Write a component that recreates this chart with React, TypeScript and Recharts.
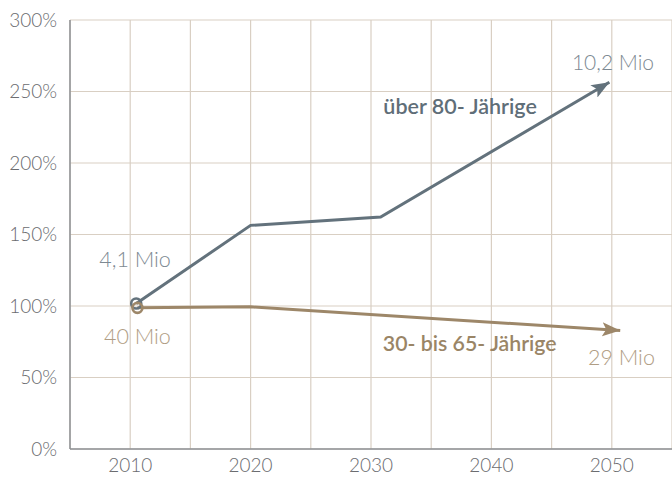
import React from 'react';
import { LineChart, Line, XAxis, YAxis, CartesianGrid, ReferenceDot } from 'recharts';

const years80 = [2010.5, 2020, 2030.8, 2049.8];
const values80 = [101.7, 156.4, 162.2, 256.5];
const years3065 = [2010.6, 2020, 2050.7];
const values3065 = [98.7, 99.4, 82.9];

const xTicks = [2005, 2010, 2015, 2020, 2025, 2030, 2035, 2040, 2045, 2050, 2055];
const xLabelled = [2010, 2020, 2030, 2040, 2050];
const yTicks = [0, 50, 100, 150, 200, 250, 300];

const annotations = [
  { x: 2010.4, y: 127.3, text: '4,1 Mio', color: '#7d8992', weight: 300, size: 21.5 },
  { x: 2010.6, y: 73.4, text: '40 Mio', color: '#b09d84', weight: 300, size: 21.5 },
  { x: 2050.1, y: 265, text: '10,2 Mio', color: '#7d8992', weight: 300, size: 21 },
  { x: 2050.8, y: 58.7, text: '29 Mio', color: '#b09d84', weight: 300, size: 21.5 },
  { x: 2037.4, y: 234.6, text: 'über 80- Jährige', color: '#5f6e78', weight: 600, size: 21.5 },
  { x: 2038.2, y: 68.5, text: '30- bis 65- Jährige', color: '#9a8566', weight: 600, size: 21.3 },
];

const GRAY = '#63727c';
const BEIGE = '#9d8769';
const GRID = '#d9cfc3';
const AXIS = '#8e9095';
const FONT = 'Lato, "Open Sans", sans-serif';

const data80 = years80.map((x, i) => ({ x, v: values80[i] }));
const data3065 = years3065.map((x, i) => ({ x, v: values3065[i] }));

const makeDot = (color: string) => (p: any) => {
  if (p.index === 0) {
    return <circle key={`d-${p.index}`} cx={p.cx} cy={p.cy} r={5} fill="#ffffff" fillOpacity={0} stroke={color} strokeWidth={2.6} />;
  }
  return <g key={`d-${p.index}`} />;
};

export default function App() {
  return (
    <div style={{ position: 'absolute', left: 0, top: 0, width: 672, height: 482, background: '#fff' }}>
      <svg width={0} height={0} style={{ position: 'absolute' }}>
        <defs>
          <marker id="arrGray" markerUnits="userSpaceOnUse" markerWidth={20} markerHeight={16} refX={18} refY={7} orient="auto">
            <path d="M0,0 L18,7 L0,14 L4,7 Z" fill={GRAY} />
          </marker>
          <marker id="arrBeige" markerUnits="userSpaceOnUse" markerWidth={20} markerHeight={16} refX={18} refY={7} orient="auto">
            <path d="M0,0 L18,7 L0,14 L4,7 Z" fill={BEIGE} />
          </marker>
        </defs>
      </svg>
      <LineChart width={672} height={482} margin={{ top: 20, right: 0, bottom: 0, left: 0 }}>
        <CartesianGrid stroke={GRID} strokeWidth={1.2} />
        <XAxis
          type="number"
          dataKey="x"
          domain={[2005, 2055]}
          ticks={xTicks}
          allowDataOverflow
          interval={0}
          height={33}
          tickLine={false}
          tickSize={0}
          tickMargin={10}
          stroke={AXIS}
          strokeWidth={1.5}
          tick={{ fill: '#6b6c70', fontSize: 19, fontFamily: FONT, fontWeight: 300 }}
          tickFormatter={(v: number) => (xLabelled.includes(v) ? String(v) : '')}
        />
        <YAxis
          type="number"
          domain={[0, 300]}
          ticks={yTicks}
          width={70}
          tickLine={false}
          tickSize={0}
          tickMargin={13}
          stroke={AXIS}
          strokeWidth={1.5}
          tick={{ fill: '#6b6c70', fontSize: 19, fontFamily: FONT, fontWeight: 300 }}
          tickFormatter={(v: number) => `${v}%`}
        />
        <Line
          data={data80}
          dataKey="v"
          type="linear"
          stroke={GRAY}
          strokeWidth={3}
          dot={makeDot(GRAY)}
          activeDot={false}
          isAnimationActive={false}
          markerEnd="url(#arrGray)"
        />
        <Line
          data={data3065}
          dataKey="v"
          type="linear"
          stroke={BEIGE}
          strokeWidth={3}
          dot={makeDot(BEIGE)}
          activeDot={false}
          isAnimationActive={false}
          markerEnd="url(#arrBeige)"
        />
        {annotations.map((a, i) => (
          <ReferenceDot
            key={i}
            x={a.x}
            y={a.y}
            r={0}
            fill="none"
            stroke="none"
            label={(p: any) => (
              <text
                x={p.viewBox.x}
                y={p.viewBox.y}
                textAnchor="middle"
                fill={a.color}
                fontSize={a.size}
                fontWeight={a.weight}
                fontFamily={FONT}
              >
                {a.text}
              </text>
            )}
          />
        ))}
      </LineChart>
    </div>
  );
}
